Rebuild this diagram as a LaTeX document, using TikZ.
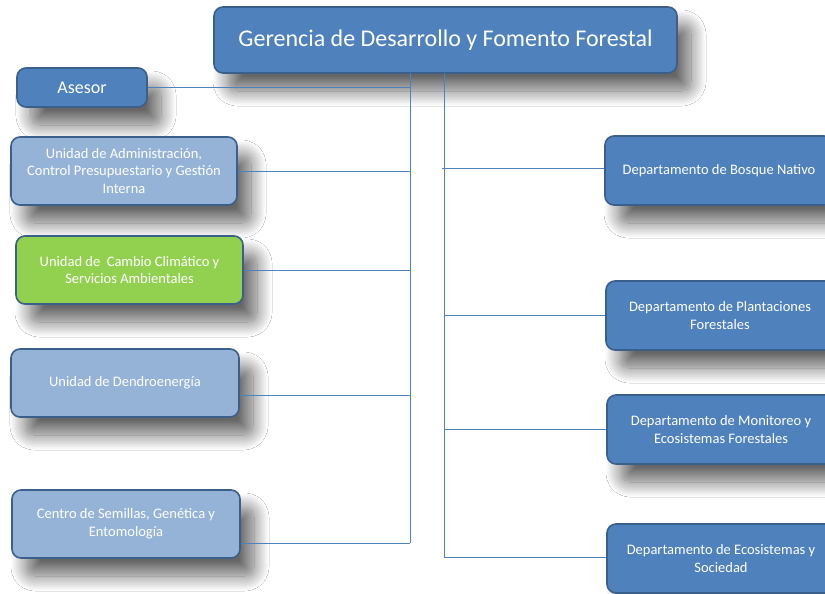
\documentclass[tikz,border=0pt]{standalone}
\usepackage{fontspec}
\setmainfont{Carlito}
\usetikzlibrary{shadows.blur}
\definecolor{dblue}{HTML}{4F81BD}
\definecolor{bord}{HTML}{3A5F8B}
\definecolor{lblue}{HTML}{95B3D7}
\definecolor{lgreen}{HTML}{92D050}
\definecolor{linec}{HTML}{4F81BD}
\begin{document}
\begin{tikzpicture}[x=1pt,y=-1pt,
  box/.style={draw=bord, line width=1.6pt, rounded corners=9pt, text=white, align=center, inner sep=0pt,
    font=\fontsize{14.5pt}{17.6pt}\selectfont,
    blur shadow={shadow xshift=14pt, shadow yshift=-18pt, shadow blur radius=15pt, shadow blur steps=20, shadow opacity=60}},
  darkbox/.style={box, fill=dblue},
  lightbox/.style={box, fill=lblue},
  greenbox/.style={box, fill=lgreen},
  conn/.style={draw=linec, line width=1pt}
]
\useasboundingbox (0,0) rectangle (825,594);
\clip (0,0) rectangle (825,594);
\fill[white] (0,0) rectangle (825,594);

% top
\node[darkbox, minimum width=463pt, minimum height=66pt, font=\fontsize{24pt}{28pt}\selectfont] (top) at (445.5,40) {Gerencia de Desarrollo y Fomento Forestal};

% left column
\node[darkbox, minimum width=130pt, minimum height=39pt, font=\fontsize{18pt}{21pt}\selectfont] (asesor) at (82,87.5) {Asesor};
\node[lightbox, minimum width=226pt, minimum height=68pt] (admin) at (124,171) {Unidad de Administración,\\Control Presupuestario y Gestión\\Interna};
\node[greenbox, minimum width=227pt, minimum height=68pt] (cambio) at (129.5,270) {Unidad de\ \ Cambio Climático y\\Servicios Ambientales};
\node[lightbox, minimum width=228pt, minimum height=68pt] (dendro) at (125,383) {Unidad de Dendroenergía};
\node[lightbox, minimum width=228pt, minimum height=68pt] (centro) at (126,524) {Centro de Semillas, Genética y\\Entomología};

% right column
\node[darkbox, minimum width=228pt, minimum height=69pt] (bosque) at (719,170.5) {Departamento de Bosque Nativo};
\node[darkbox, minimum width=228pt, minimum height=69pt] (plant) at (720,315.5) {Departamento de Plantaciones\\Forestales};
\node[darkbox, minimum width=228pt, minimum height=69pt] (monit) at (721,429.5) {Departamento de Monitoreo y\\Ecosistemas Forestales};
\node[darkbox, minimum width=228pt, minimum height=69pt] (ecos) at (721,558.5) {Departamento de Ecosistemas y\\Sociedad};

% trunks
\coordinate (ltop) at (410,73);
\coordinate (lbot) at (410,543);
\coordinate (rtop) at (444,73);
\coordinate (rbot) at (444,557);
\coordinate (bstart) at (442,168);

\draw[conn] (ltop) -- (lbot);
\draw[conn] (rtop) -- (rbot);

% left branches
\draw[conn] (asesor.east) -- (asesor.east -| ltop);
\draw[conn] (admin.east) -- (admin.east -| ltop);
\draw[conn] (cambio.east) -- (cambio.east -| ltop);
\draw[conn] ([yshift=-12pt]dendro.east) -- ([yshift=-12pt]dendro.east -| ltop);
\draw[conn] (lbot) -- (lbot -| centro.east);

% right branches
\draw[conn] (bstart) -- (bstart -| bosque.west);
\draw[conn] (plant.west -| rtop) -- (plant.west);
\draw[conn] (monit.west -| rtop) -- (monit.west);
\draw[conn] (rbot) -- (rbot -| ecos.west);
\end{tikzpicture}
\end{document}
